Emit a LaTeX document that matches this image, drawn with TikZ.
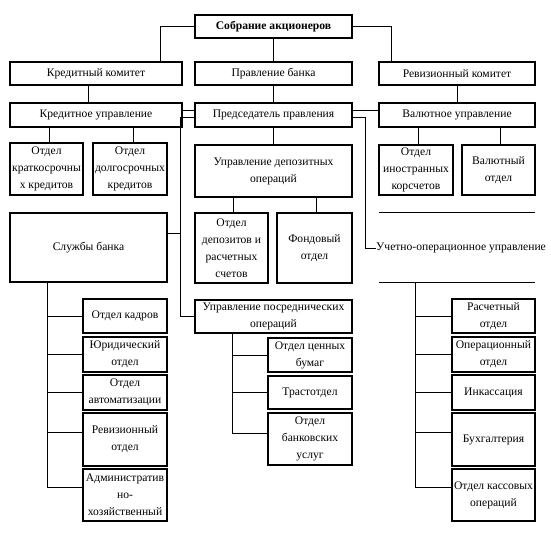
\documentclass[tikz,border=0pt]{standalone}
\usepackage{fontspec}
\setmainfont{Liberation Serif}
\usetikzlibrary{positioning}

\begin{document}
\begin{tikzpicture}[
            x=1pt, y=-1pt,
            box/.style={draw, line width=1.2pt, align=center, inner sep=0.5pt, font=\fontsize{11.6}{17}\selectfont},
            headbox/.style={box, font=\fontsize{11.6}{17}\selectfont\bfseries},
            conn/.style={line width=0.9pt},
            rule/.style={line width=1.2pt}
        ]
            \useasboundingbox (0,0) rectangle (551,547);

            % Top
            \node[headbox, minimum width=157, minimum height=23] (sobranie) at (273.5,26.5) {Собрание акционеров};

            % Committees and board
            \node[box, minimum width=172, minimum height=23] (kredkom) at (96,73.5) {Кредитный комитет};
            \node[box, minimum width=157, minimum height=23] (pravlenie) at (273.5,73.5) {Правление банка};
            \node[box, minimum width=156, minimum height=23] (revkom) at (457,73.5) {Ревизионный комитет};

            % Departments
            \node[box, minimum width=172, minimum height=24] (kredupr) at (96,115) {Кредитное управление};
            \node[box, minimum width=157, minimum height=24] (predsed) at (273.5,115) {Председатель правления};
            \node[box, minimum width=156, minimum height=24] (valupr) at (457,115) {Валютное управление};

            % Credit sections
            \node[box, minimum width=73, minimum height=52] (kratk) at (46.5,169) {Отдел\\краткосрочны\\х кредитов};
            \node[box, minimum width=74, minimum height=52] (dolg) at (130,169) {Отдел\\долгосрочных\\кредитов};

            % Deposit management
            \node[box, minimum width=157, minimum height=52] (depupr) at (273.5,171) {Управление депозитных\\операций};
            \node[box, minimum width=73, minimum height=70] (deprasch) at (231.5,248) {Отдел\\депозитов и\\расчетных\\счетов};
            \node[box, minimum width=75, minimum height=70] (fond) at (314.5,248) {Фондовый\\отдел};

            % Currency sections
            \node[box, minimum width=74, minimum height=50] (korsch) at (416,170) {Отдел\\иностранных\\корсчетов};
            \node[box, minimum width=73, minimum height=50] (valotd) at (498.5,170) {Валютный\\отдел};

            % Bank services
            \node[box, minimum width=157, minimum height=69] (sluzhby) at (88.5,247.5) {Службы банка};
            \node[box, minimum width=84, minimum height=34] (kadry) at (125,316) {Отдел кадров};
            \node[box, minimum width=84, minimum height=35] (yurid) at (125,354.5) {Юридический\\отдел};
            \node[box, minimum width=84, minimum height=35] (avtom) at (125,392.5) {Отдел\\автоматизации};
            \node[box, minimum width=84, minimum height=53] (reviz) at (125,439.5) {Ревизионный\\отдел};
            \node[box, minimum width=84, minimum height=52] (admin) at (125,495) {Административ\\но-\\хозяйственный};

            % Intermediary operations
            \node[box, minimum width=157, minimum height=33] (posred) at (273.5,316.5) {Управление посреднических\\операций};
            \node[box, minimum width=84, minimum height=34] (cennye) at (310,355) {Отдел ценных\\бумаг};
            \node[box, minimum width=84, minimum height=33] (trast) at (310,392.5) {Трастотдел};
            \node[box, minimum width=84, minimum height=52] (bankusl) at (310,439) {Отдел\\банковских\\услуг};

            % Accounting and operations
            \node[minimum width=156, minimum height=69, inner sep=0pt] (uchet) at (457,247.5) {};
            \draw[rule] (uchet.north west) -- (uchet.north east);
            \draw[rule] (uchet.south west) -- (uchet.south east);
            \node[anchor=west, inner sep=0pt, font=\fontsize{11.6}{17}\selectfont] (uchettxt) at (376,248) {Учетно-операционное управление};
            \node[box, minimum width=83, minimum height=34] (rasch) at (493.5,316) {Расчетный\\отдел};
            \node[box, minimum width=83, minimum height=35] (oper) at (493.5,354.5) {Операционный\\отдел};
            \node[box, minimum width=83, minimum height=35] (inkas) at (493.5,392.5) {Инкассация};
            \node[box, minimum width=83, minimum height=53] (buh) at (493.5,439.5) {Бухгалтерия};
            \node[box, minimum width=83, minimum height=52] (kass) at (493.5,495) {Отдел кассовых\\операций};

            % Bus lines
            \coordinate (lbus) at (180,0);
            \coordinate (rbus) at (365,0);
            \coordinate (sbus) at (47,0);
            \coordinate (mbus) at (232,0);
            \coordinate (ubus) at (415,0);

            % Top connections
            \draw[conn] (sobranie.west) -| ([xshift=64pt]kredkom.north);
            \draw[conn] (sobranie.east) -| ([xshift=-66pt]revkom.north);
            \draw[conn] (sobranie) -- (pravlenie);
            \draw[conn] ([xshift=-8pt]kredkom.south) -- ([xshift=-8pt]kredupr.north);
            \draw[conn] (pravlenie) -- (predsed);
            \draw[conn] (revkom) -- (valupr);
            \draw[conn] ([yshift=5pt]predsed.west) -- ([yshift=5pt]kredupr.east);
            \draw[conn] ([yshift=5pt]predsed.east) -- ([yshift=5pt]valupr.west);

            % Sections
            \draw[conn] ([xshift=3pt]kratk.north) -- ([xshift=3pt]kratk.north |- kredupr.south);
            \draw[conn] ([xshift=3pt]dolg.north) -- ([xshift=3pt]dolg.north |- kredupr.south);
            \draw[conn] ([xshift=2pt]korsch.north) -- ([xshift=2pt]korsch.north |- valupr.south);
            \draw[conn] ([xshift=2pt]valotd.north) -- ([xshift=2pt]valotd.north |- valupr.south);
            \draw[conn] (predsed) -- (depupr);
            \draw[conn] ([xshift=2pt]deprasch.north) -- ([xshift=2pt]deprasch.north |- depupr.south);
            \draw[conn] ([xshift=2pt]fond.north) -- ([xshift=2pt]fond.north |- depupr.south);

            % Left and right buses from the chairman
            \draw[conn] ([yshift=-2pt]predsed.west) -| (lbus |- posred.west) -- (posred.west);
            \draw[conn] ([yshift=14pt]sluzhby.east) -- ([yshift=14pt]sluzhby.east -| lbus);
            \draw[conn] ([yshift=-2pt]predsed.east) -| (rbus |- uchettxt.west) -- (uchettxt.west);

            % Bank services list
            \draw[conn] (sluzhby.south -| sbus) |- ([yshift=8pt]admin.west);
            \draw[conn] (kadry.west) -- (kadry.west -| sbus);
            \draw[conn] (yurid.west) -- (yurid.west -| sbus);
            \draw[conn] (avtom.west) -- (avtom.west -| sbus);
            \draw[conn] ([yshift=7pt]reviz.west) -- ([yshift=7pt]reviz.west -| sbus);

            % Intermediary list
            \draw[conn] (posred.south -| mbus) |- ([yshift=6pt]bankusl.west);
            \draw[conn] (cennye.west) -- (cennye.west -| mbus);
            \draw[conn] (trast.west) -- (trast.west -| mbus);

            % Accounting list
            \draw[conn] (uchet.south -| ubus) |- ([yshift=8pt]kass.west);
            \draw[conn] (rasch.west) -- (rasch.west -| ubus);
            \draw[conn] (oper.west) -- (oper.west -| ubus);
            \draw[conn] (inkas.west) -- (inkas.west -| ubus);
            \draw[conn] ([yshift=7pt]buh.west) -- ([yshift=7pt]buh.west -| ubus);

        \end{tikzpicture}
\end{document}
